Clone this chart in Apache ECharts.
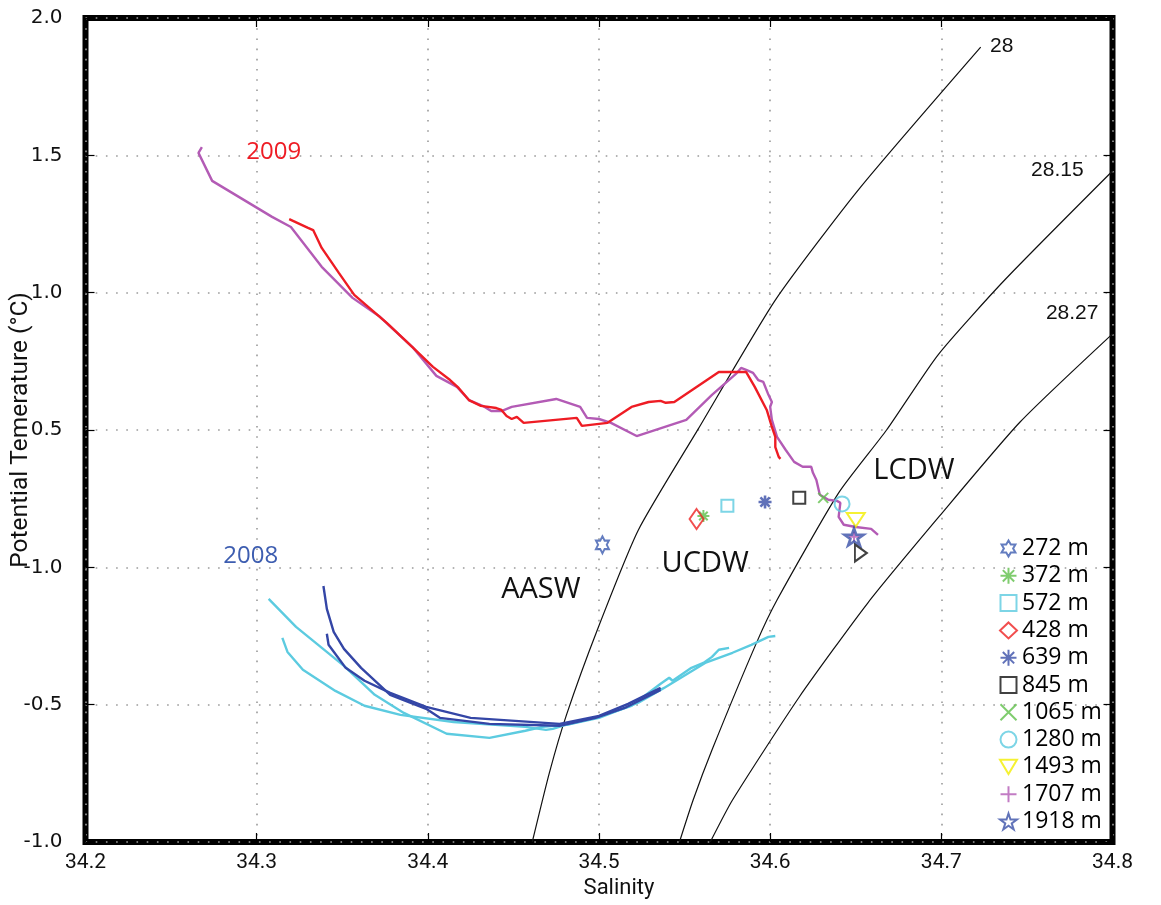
<!DOCTYPE html>
<html>
<head>
<meta charset="utf-8">
<title>Potential temperature vs salinity</title>
<script src="https://cdn.jsdelivr.net/npm/echarts/dist/echarts.min.js"></script>
<style>
  html, body { margin: 0; padding: 0; background: #fff; }
  #chart { width: 1161px; height: 905px; }
</style>
</head>
<body>
<div id="chart"></div>
<script>
// ---- data: [salinity, potential temperature] ----
const salinityTickValues = [34.2, 34.3, 34.4, 34.5, 34.6, 34.7, 34.8];
const salinityTickLabels = ['34.2', '34.3', '34.4', '34.5', '34.6', '34.7', '34.8'];
const tempTickValues = [-1.0, -0.5, 0.0, 0.5, 1.0, 1.5, 2.0];
const tempTickLabels = ['-1.0', '-0.5', '-1.0', '0.5', '1.0', '1.5', '2.0'];

// 2009 profiles
const profile2009Red = [
  [34.319, 1.268], [34.330, 1.236], [34.333, 1.228], [34.338, 1.163], [34.348, 1.072],
  [34.357, 0.992], [34.376, 0.890], [34.391, 0.802], [34.403, 0.730], [34.413, 0.682],
  [34.418, 0.653], [34.424, 0.609], [34.431, 0.588], [34.440, 0.580], [34.443, 0.573],
  [34.446, 0.551], [34.449, 0.540], [34.452, 0.548], [34.456, 0.526], [34.487, 0.544],
  [34.490, 0.515], [34.505, 0.526], [34.519, 0.584], [34.529, 0.602], [34.536, 0.606],
  [34.539, 0.599], [34.544, 0.602], [34.570, 0.711], [34.586, 0.711], [34.587, 0.704],
  [34.591, 0.657], [34.598, 0.573], [34.601, 0.511], [34.603, 0.475], [34.603, 0.438],
  [34.605, 0.402], [34.606, 0.395]
];
const profile2009Purple = [
  [34.268, 1.530], [34.266, 1.509], [34.274, 1.407], [34.309, 1.276], [34.320, 1.239],
  [34.338, 1.094], [34.356, 0.981], [34.372, 0.912], [34.391, 0.802], [34.405, 0.697],
  [34.417, 0.657], [34.424, 0.609], [34.432, 0.588], [34.437, 0.569], [34.443, 0.569],
  [34.449, 0.584], [34.475, 0.613], [34.489, 0.584], [34.493, 0.544], [34.500, 0.540],
  [34.507, 0.526], [34.522, 0.478], [34.551, 0.537], [34.566, 0.628], [34.580, 0.704],
  [34.583, 0.726], [34.586, 0.719], [34.590, 0.708], [34.593, 0.682], [34.596, 0.675],
  [34.599, 0.628], [34.601, 0.602], [34.600, 0.584], [34.601, 0.537], [34.604, 0.475],
  [34.609, 0.428], [34.614, 0.384], [34.619, 0.366], [34.624, 0.366], [34.625, 0.344],
  [34.627, 0.318], [34.629, 0.264], [34.634, 0.246], [34.639, 0.242], [34.641, 0.235],
  [34.640, 0.184], [34.643, 0.155], [34.650, 0.147], [34.659, 0.140], [34.663, 0.118]
];

// 2008 profiles
const profile2008DarkA = [
  [34.339, -0.068], [34.341, -0.151], [34.345, -0.235], [34.351, -0.297], [34.361, -0.366],
  [34.378, -0.464], [34.399, -0.515], [34.407, -0.548], [34.436, -0.570], [34.477, -0.577],
  [34.498, -0.548], [34.515, -0.512], [34.536, -0.446]
];
const profile2008DarkB = [
  [34.341, -0.242], [34.342, -0.282], [34.352, -0.366], [34.363, -0.413], [34.378, -0.457],
  [34.399, -0.508], [34.425, -0.548], [34.477, -0.570], [34.500, -0.541], [34.517, -0.497],
  [34.536, -0.439]
];
const profile2008LightA = [
  [34.307, -0.115], [34.323, -0.217], [34.351, -0.359], [34.369, -0.464], [34.386, -0.530],
  [34.411, -0.606], [34.436, -0.621], [34.457, -0.595], [34.467, -0.581], [34.481, -0.573],
  [34.500, -0.544], [34.519, -0.504], [34.536, -0.424], [34.541, -0.402], [34.543, -0.413],
  [34.554, -0.366], [34.561, -0.348], [34.566, -0.326], [34.570, -0.300], [34.576, -0.293]
];
const profile2008LightB = [
  [34.315, -0.257], [34.318, -0.308], [34.327, -0.373], [34.346, -0.450], [34.363, -0.504],
  [34.384, -0.537], [34.415, -0.563], [34.457, -0.581], [34.469, -0.592], [34.473, -0.588],
  [34.481, -0.573], [34.500, -0.548], [34.523, -0.493], [34.538, -0.439], [34.562, -0.348],
  [34.578, -0.311], [34.589, -0.282], [34.599, -0.253], [34.603, -0.250]
];

// potential density isolines
const isopycnal28 = [
  [34.461, -1.0], [34.471, -0.748], [34.481, -0.537], [34.499, -0.228], [34.523, 0.136],
  [34.558, 0.504], [34.603, 0.973], [34.652, 1.378], [34.723, 1.894]
];
const isopycnal2815 = [
  [34.547, -1.0], [34.555, -0.847], [34.566, -0.665], [34.592, -0.275], [34.604, -0.119],
  [34.640, 0.271], [34.668, 0.500], [34.698, 0.773], [34.737, 1.046], [34.800, 1.443]
];
const isopycnal2827 = [
  [34.565, -1.0], [34.578, -0.847], [34.617, -0.472], [34.657, -0.130], [34.699, 0.187],
  [34.746, 0.529], [34.800, 0.850]
];

// discrete samples by depth
const sampleDepths = ['272 m', '372 m', '572 m', '428 m', '639 m', '845 m', '1065 m', '1280 m', '1493 m', '1707 m', '1918 m'];
const sampleSalinity = [34.502, 34.561, 34.575, 34.557, 34.597, 34.617, 34.631, 34.642, 34.650, 34.649, 34.649];
const sampleTemp = [0.082, 0.187, 0.224, 0.176, 0.238, 0.253, 0.253, 0.231, 0.173, 0.111, 0.111];
const extraSample = [34.653, 0.052];

// text annotations in data coordinates
const annotationText = ['2009', '2008', 'AASW', 'UCDW', 'LCDW', '28', '28.15', '28.27'];
const annotationPos = [
  [34.310, 1.512], [34.2965, 0.042], [34.466, -0.082], [34.562, 0.013], [34.684, 0.351],
  [34.7285, 1.898], [34.7524, 1.447], [34.7611, 0.926]
];

// ---- styling ----
const PATHS = {
  hexagram: 'path://M0,-10L2.887,-5L8.66,-5L5.77,0L8.66,5L2.887,5L0,10L-2.887,5L-8.66,5L-5.77,0L-8.66,-5L-2.887,-5Z',
  pentagram: 'path://M0,-10L2.245,-3.09L9.511,-3.09L3.633,1.18L5.878,8.09L0,3.82L-5.878,8.09L-3.633,1.18L-9.511,-3.09L-2.245,-3.09Z',
  asterisk: 'path://M0,-10L0,10M-10,0L10,0M-7.07,-7.07L7.07,7.07M-7.07,7.07L7.07,-7.07',
  cross: 'path://M-10,-10L10,10M-10,10L10,-10',
  plus: 'path://M0,-10L0,10M-10,0L10,0',
  square: 'path://M-10,-10L10,-10L10,10L-10,10Z',
  triDown: 'path://M-10,-8L10,-8L0,9Z',
  triRight: 'path://M-8,-10L9,0L-8,10Z'
};
const markerStyles = [
  { symbol: PATHS.hexagram, size: [15, 17], color: '#3d5db0', width: 2 },
  { symbol: PATHS.asterisk, size: [12, 12], color: '#5fbf4a', width: 2 },
  { symbol: PATHS.square, size: [12, 12], color: '#5ccbe0', width: 2 },
  { symbol: 'diamond', size: [14, 20], color: '#ee2222', width: 2 },
  { symbol: PATHS.asterisk, size: [13, 13], color: '#3a4fa8', width: 2.6 },
  { symbol: PATHS.square, size: [12, 12], color: '#111111', width: 2 },
  { symbol: PATHS.cross, size: [10, 10], color: '#5fbf4a', width: 2 },
  { symbol: 'circle', size: [15, 15], color: '#5ccbe0', width: 2 },
  { symbol: PATHS.triDown, size: [18, 16], color: '#f2ee00', width: 2 },
  { symbol: PATHS.plus, size: [10, 10], color: '#b35bb5', width: 2 },
  { symbol: PATHS.pentagram, size: [19, 18], color: '#3a50a8', width: 2.6 }
];
const annotationStyles = [
  { color: '#ee1c24', size: 24, align: 'center' },
  { color: '#3d5db0', size: 24, align: 'center' },
  { color: '#111', size: 29, align: 'center' },
  { color: '#111', size: 29, align: 'center' },
  { color: '#111', size: 29, align: 'center' },
  { color: '#111', size: 21, align: 'left', font: 'Liberation Sans' },
  { color: '#111', size: 21, align: 'left', font: 'Liberation Sans' },
  { color: '#111', size: 21, align: 'left', font: 'Liberation Sans' }
];

function lineSeries(name, data, color, width, smooth) {
  return {
    name: name, type: 'line', data: data, showSymbol: false, symbol: 'none',
    smooth: smooth || false, clip: true, silent: true,
    lineStyle: { color: color, width: width }, z: 3
  };
}

const series = [
  lineSeries('σ 28', isopycnal28, '#111', 1.2, 0.2),
  lineSeries('σ 28.15', isopycnal2815, '#111', 1.2, 0.2),
  lineSeries('σ 28.27', isopycnal2827, '#111', 1.2, 0.2),
  lineSeries('2008 c', profile2008LightA, '#5ccbe0', 2.4),
  lineSeries('2008 d', profile2008LightB, '#5ccbe0', 2.4),
  lineSeries('2008 a', profile2008DarkA, '#3446a6', 2.4),
  lineSeries('2008 b', profile2008DarkB, '#3446a6', 2.4),
  lineSeries('2009 b', profile2009Purple, '#b35bb5', 2.4),
  lineSeries('2009 a', profile2009Red, '#ee1c24', 2.4)
];

sampleDepths.forEach(function (depth, i) {
  const st = markerStyles[i];
  series.push({
    name: depth, type: 'scatter',
    data: [[sampleSalinity[i], sampleTemp[i]]],
    symbol: st.symbol, symbolSize: st.size, symbolKeepAspect: true,
    itemStyle: { color: 'rgba(0,0,0,0)', borderColor: st.color, borderWidth: st.width },
    z: 5 + i, silent: true
  });
});
series.push({
  name: 'extra', type: 'scatter', data: [extraSample],
  symbol: PATHS.triRight, symbolSize: [14, 17], symbolKeepAspect: true,
  itemStyle: { color: 'rgba(0,0,0,0)', borderColor: '#111', borderWidth: 2 },
  z: 20, silent: true
});

function tempLabel(v) {
  const k = tempTickValues.findIndex(function (t) { return Math.abs(t - v) < 1e-6; });
  return k >= 0 ? tempTickLabels[k] : '';
}
function salLabel(v) {
  const k = salinityTickValues.findIndex(function (t) { return Math.abs(t - v) < 1e-6; });
  return k >= 0 ? salinityTickLabels[k] : '';
}

const gridLine = { show: true, lineStyle: { color: '#9a9a9a', width: 1.6, type: [1.6, 8.6] } };
const innerTick = { show: true, inside: true, length: 9, lineStyle: { color: '#000', width: 1.2 } };
const noLine = { show: false, onZero: false };

const option = {
  animation: false,
  backgroundColor: '#fff',
  grid: {
    left: 85.5, right: 48.5, top: 18, bottom: 63,
    show: true, borderColor: '#000', borderWidth: 6, backgroundColor: 'transparent',
    containLabel: false, outerBoundsMode: 'none'
  },
  xAxis: [{
    type: 'value', min: 34.2, max: 34.8, interval: 0.1, position: 'bottom',
    name: 'Salinity', nameLocation: 'middle', nameGap: 35, nameMoveOverlap: false,
    nameTextStyle: { fontFamily: 'Roboto', fontSize: 22, color: '#111', padding: [0, 0, 0, 40] },
    axisLine: noLine, axisTick: innerTick, splitLine: gridLine,
    axisLabel: { formatter: salLabel, fontFamily: 'Roboto', fontSize: 21, color: '#111', margin: 10, showMinLabel: true, showMaxLabel: true }
  }, {
    type: 'value', min: 34.2, max: 34.8, interval: 0.1, position: 'top',
    axisLine: noLine, axisTick: innerTick, splitLine: { show: false }, axisLabel: { show: false }
  }],
  yAxis: [{
    type: 'value', min: -1.0, max: 2.0, interval: 0.5, position: 'left',
    name: 'Potential Temerature (°C)', nameLocation: 'middle', nameGap: 52, nameRotate: 90,
    nameMoveOverlap: false,
    nameTextStyle: { fontFamily: 'Roboto', fontSize: 24.5, color: '#111' },
    axisLine: noLine, axisTick: innerTick, splitLine: gridLine,
    axisLabel: { formatter: tempLabel, fontFamily: 'DejaVu Sans', fontSize: 20, color: '#111', margin: 23, showMinLabel: true, showMaxLabel: true }
  }, {
    type: 'value', min: -1.0, max: 2.0, interval: 0.5, position: 'right',
    axisLine: noLine, axisTick: innerTick, splitLine: { show: false }, axisLabel: { show: false }
  }],
  legend: {
    orient: 'vertical', left: 994, top: 532,
    itemWidth: 17, itemHeight: 16, itemGap: 4.3,
    data: sampleDepths, selectedMode: false,
    textStyle: { fontFamily: 'Open Sans', fontSize: 23, color: '#000', lineHeight: 22 }
  },
  series: series
};

const chart = echarts.init(document.getElementById('chart'), null, { renderer: 'canvas' });
chart.setOption(option);

// annotation texts placed at data coordinates
const graphics = annotationText.map(function (txt, i) {
  const p = chart.convertToPixel({ gridIndex: 0 }, annotationPos[i]);
  const st = annotationStyles[i];
  return {
    type: 'text', x: p[0], y: p[1], z: 30, silent: true,
    style: {
      text: txt, fill: st.color,
      font: st.size + 'px "' + (st.font || 'Open Sans') + '"',
      textAlign: st.align, textVerticalAlign: 'middle',
      align: st.align, verticalAlign: 'middle'
    }
  };
});
chart.setOption({ graphic: graphics });
</script>
</body>
</html>
